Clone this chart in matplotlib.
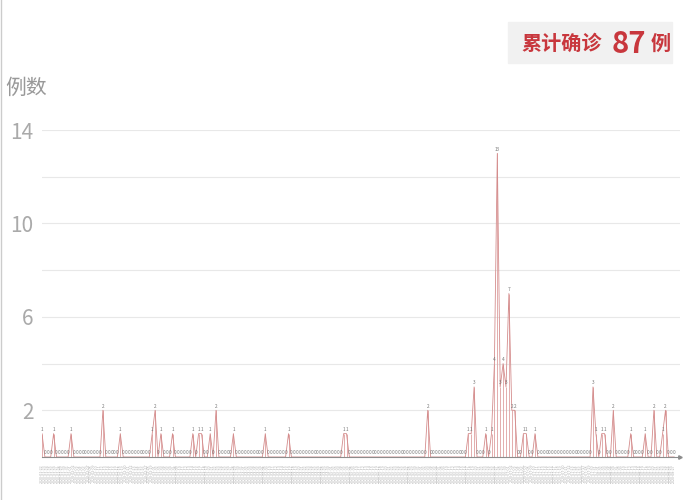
import numpy as np
import pandas as pd
import matplotlib.pyplot as plt
from matplotlib.patches import Rectangle
from matplotlib.lines import Line2D

plt.rcParams['font.family'] = ['Noto Sans CJK SC', 'DejaVu Sans']

# daily new confirmed cases
cases = [
    1, 0, 0, 0, 1, 0, 0, 0, 0, 0, 1, 0, 0, 0, 0, 0, 0, 0, 0, 0,
    0, 2, 0, 0, 0, 0, 0, 1, 0, 0, 0, 0, 0, 0, 0, 0, 0, 0, 1, 2,
    0, 1, 0, 0, 0, 1, 0, 0, 0, 0, 0, 0, 1, 0, 1, 1, 0, 0, 1, 0,
    2, 0, 0, 0, 0, 0, 1, 0, 0, 0, 0, 0, 0, 0, 0, 0, 0, 1, 0, 0,
    0, 0, 0, 0, 0, 1, 0, 0, 0, 0, 0, 0, 0, 0, 0, 0, 0, 0, 0, 0,
    0, 0, 0, 0, 1, 1, 0, 0, 0, 0, 0, 0, 0, 0, 0, 0, 0, 0, 0, 0,
    0, 0, 0, 0, 0, 0, 0, 0, 0, 0, 0, 0, 0, 2, 0, 0, 0, 0, 0, 0,
    0, 0, 0, 0, 0, 0, 0, 1, 1, 3, 0, 0, 0, 1, 0, 1, 4, 13, 3, 4,
    3, 7, 2, 2, 0, 0, 1, 1, 0, 0, 1, 0, 0, 0, 0, 0, 0, 0, 0, 0,
    0, 0, 0, 0, 0, 0, 0, 0, 0, 0, 3, 1, 0, 1, 1, 0, 0, 2, 0, 0,
    0, 0, 0, 1, 0, 0, 0, 0, 1, 0, 0, 2, 0, 0, 1, 2, 0, 0, 0,
]
dates = pd.date_range('2020-01-22', periods=len(cases)).strftime('%Y-%m-%d').tolist()
total = sum(cases)
grid_values = [2, 4, 6, 8, 10, 12, 14]
shown_ticks = [2, 6, 10, 14]

fig = plt.figure(figsize=(7, 5), dpi=100)
ax = fig.add_axes([42 / 700, 43 / 500, 638 / 700, 327 / 500])

x = np.arange(len(cases))
ax.vlines(x, 0, cases, color='#dea0a0', lw=0.6)
ax.plot(x, cases, color='#d48c8c', lw=0.6)

# small value labels on every point
for xi, v in zip(x, cases):
    ax.annotate(str(v), (xi, v), xytext=(0, 1.2), textcoords='offset points',
                ha='center', va='bottom', fontsize=3.4, color='#777777')

ax.set_xlim(0, len(cases) + 1)
ax.set_ylim(0, 14)

ax.set_yticks(grid_values)
ax.set_yticklabels([str(v) if v in shown_ticks else '' for v in grid_values],
                   fontweight='light')
ax.tick_params(axis='y', length=0, pad=6, labelsize=15, labelcolor='#aaaaaa')
ax.grid(axis='y', color='#e8e8e8', lw=0.8)
ax.set_axisbelow(True)

ax.set_xticks(x)
ax.set_xticklabels(dates, rotation=90, fontsize=2.7, color='#b0b0b0')
ax.tick_params(axis='x', length=0, pad=5)

for side in ['top', 'right', 'left']:
    ax.spines[side].set_visible(False)
ax.spines['bottom'].set_color('#8c8c8c')
ax.spines['bottom'].set_linewidth(0.8)
ax.plot([len(cases) + 1], [0], marker='>', ms=2.5, color='#8c8c8c', clip_on=False)

# axis name
fig.text(5 / 700, 1 - 88 / 500, '例数', fontsize=15, color='#999999',
         va='center', fontweight='light')

# total box in the top right
fig.add_artist(Rectangle((508 / 700, 1 - 63 / 500), 164 / 700, 41 / 500,
                         transform=fig.transFigure, color='#f1f1f1', zorder=0))
red = '#c8373d'
yb = 1 - 43 / 500
fig.text(521 / 700, yb, '累计确诊', fontsize=14.5, color=red, weight='bold', va='center')
fig.text(612 / 700, yb - 0.002, str(total), fontsize=21, color=red, weight='bold', va='center')
fig.text(651 / 700, yb, '例', fontsize=14.5, color=red, weight='bold', va='center')

# left border of the frame
fig.add_artist(Line2D([0.0015, 0.0015], [0, 1], color='#cccccc', lw=1))

fig.savefig('out.png', dpi=100)
